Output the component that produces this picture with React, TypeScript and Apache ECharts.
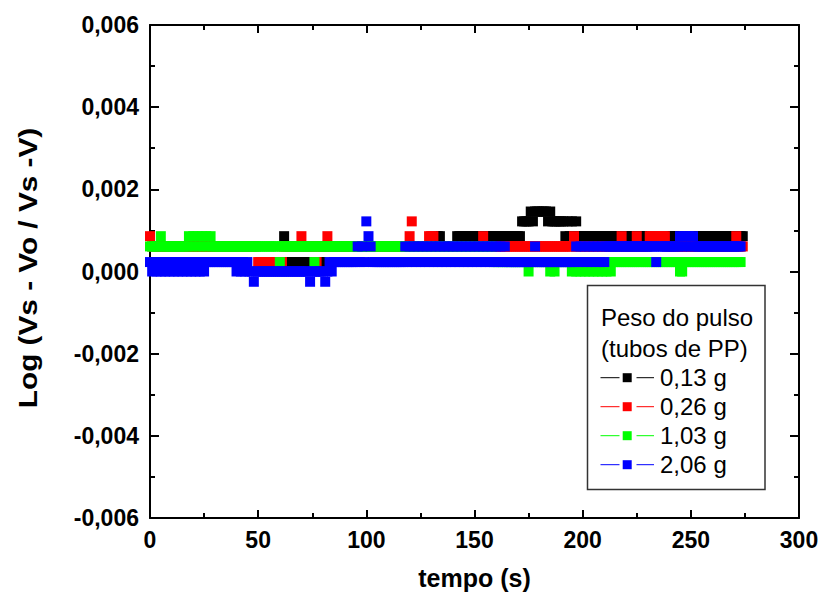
import React, { useEffect, useRef } from "react";
import * as echarts from "echarts";

// Quantized log levels (code -> value)
const levelValues: Record<string, number> = {
  "0": -0.00025,
  "1": 0,
  "2": 0.00023,
  "3": 0.00061,
  "4": 0.00086,
  "5": 0.00122,
  "6": 0.00146,
};

// One code per second, t = 0 .. 275 s ('.' = no reading)
const codes013 = [
  "..........", "..........", "..........", "..........", "..........", "..........",
  "..42222222", "2222222222", "3333333333", "3333333333", "3333333333", "3333333333",
  "3333333333", "3344433333", "3344444444", "4444444444", "4444444444", "4455556566",
  "6666565555", "5545454544", "4444444444", "4444444444", "4444444444", "4444444444",
  "4444444444", "4444444444", "4444444444", "44444.",
].join("");

const codes026 = [
  "4333333333", "3333333333", "3333333333", "3333333333", "3333333333", "2222222222",
  "2233333333", "4333333233", "3343333333", "3333333333", "3333333333", "3333333333",
  "4533333334", "4433333333", "3333333333", "3333433333", "3333333333", "3333333333",
  "3333333333", "3333334333", "3333333333", "3333333343", "3333343333", "3444444443",
  "3333333333", "3333333333", "3333333333", "34333.",
].join("");

const codes103 = [
  "3333343333", "3333333343", "4343434343", "3333333333", "3333333333", "3333333333",
  "2333333333", "3333332333", "3333333333", "3333333333", "3333333333", "3333333333",
  "3333333333", "3333333333", "3333333333", "3333333332", "2222222222", "2222212222",
  "2222212122", "2222212121", "2121212121", "2121222222", "2222222222", "2222222222",
  "2222211222", "2222222222", "2222222222", "2222..",
].join("");

const codes206 = [
  "2121212121", "2121212121", "2121212222", "2222222222", "1212121101", "1111111111",
  "1111111111", "1111011111", "1012122222", "2222223232", "5432222222", "2222222232",
  "3232323232", "3232323232", "3232323232", "3232323232", "3232322222", "2222222232",
  "2222222222", "2222222323", "2323232323", "2333333333", "3333333333", "3333233333",
  "3333343434", "3433333333", "3333333333", "3333..",
].join("");

const seriesNames = ["0,13 g", "0,26 g", "1,03 g", "2,06 g"];
const seriesCodes = [codes013, codes026, codes103, codes206];
const seriesColors = ["#000000", "#ff0000", "#00ff00", "#0000ff"];

const legendTitle = ["Peso do pulso", "(tubos de PP)"];
const xTitle = "tempo (s)";
const yTitle = "Log (Vs - Vo / Vs -V)";

const FONT = "'Liberation Sans', Arial, Helvetica, sans-serif";

function decode(codes: string): [number, number][] {
  const pts: [number, number][] = [];
  for (let i = 0; i < codes.length; i++) {
    const c = codes[i];
    if (c in levelValues) pts.push([i, levelValues[c]]);
  }
  return pts;
}

function fmtY(v: number): string {
  if (Math.abs(v) < 1e-9) return "0,000";
  return v.toFixed(3).replace(".", ",");
}

export default function App() {
  const ref = useRef<HTMLDivElement>(null);

  useEffect(() => {
    if (!ref.current) return;
    const chart = echarts.init(ref.current, null, { renderer: "svg" });

    const axisLine = { onZero: false, lineStyle: { color: "#000", width: 2 } };
    const tickStyle = { color: "#000", width: 2 };
    const labelStyle = {
      color: "#000",
      fontSize: 23,
      fontWeight: "bold" as const,
      fontFamily: FONT,
    };

    const legendX = 587.5;
    const legendY = 285.5;
    const rowY0 = 377.7;
    const rowStep = 29;
    const legendElems: any[] = [
      {
        type: "rect",
        shape: { x: legendX, y: legendY, width: 177.5, height: 204 },
        style: { fill: "#fff", stroke: "#333", lineWidth: 1.5 },
        z: 100,
      },
      ...legendTitle.map((t, k) => ({
        type: "text",
        x: 601,
        y: 317 + k * 31,
        style: {
          text: t,
          fill: "#000",
          font: `24px ${FONT}`,
          verticalAlign: "middle",
        },
        z: 101,
      })),
    ];
    seriesNames.forEach((name, k) => {
      const y = rowY0 + k * rowStep;
      const col = seriesColors[k];
      legendElems.push(
        { type: "line", shape: { x1: 600.5, y1: y, x2: 619.5, y2: y }, style: { stroke: col, lineWidth: 1 }, z: 101 },
        { type: "rect", shape: { x: 622.7, y: y - 4.5, width: 9, height: 9 }, style: { fill: col }, z: 101 },
        { type: "line", shape: { x1: 636.5, y1: y, x2: 654, y2: y }, style: { stroke: col, lineWidth: 1 }, z: 101 },
        {
          type: "text",
          x: 660,
          y,
          style: { text: name, fill: "#000", font: `24px ${FONT}`, verticalAlign: "middle" },
          z: 101,
        }
      );
    });
    // y-axis title (stretched along its length like the original)
    legendElems.push({
      type: "text",
      x: 28,
      y: 268,
      rotation: Math.PI / 2,
      scaleX: 1.19,
      scaleY: 1,
      style: {
        text: yTitle,
        fill: "#000",
        font: `bold 25px ${FONT}`,
        align: "center",
        verticalAlign: "middle",
      },
      z: 50,
    });

    chart.setOption({
      animation: false,
      backgroundColor: "#fff",
      grid: { left: 150, right: 25, top: 25, bottom: 83, containLabel: false },
      xAxis: [
        {
          type: "value",
          position: "bottom",
          min: 0,
          max: 300,
          interval: 50,
          axisLine,
          axisTick: { inside: true, length: 8, lineStyle: tickStyle },
          minorTick: { show: true, splitNumber: 2, length: 5, lineStyle: tickStyle },
          splitLine: { show: false },
          minorSplitLine: { show: false },
          axisLabel: { ...labelStyle, margin: 10 },
          name: xTitle,
          nameLocation: "middle",
          nameGap: 47,
          nameTextStyle: { color: "#000", fontSize: 25, fontWeight: "bold", fontFamily: FONT },
        },
        {
          type: "value",
          position: "top",
          min: 0,
          max: 300,
          interval: 50,
          axisLine,
          axisTick: { inside: true, length: 8, lineStyle: tickStyle },
          minorTick: { show: true, splitNumber: 2, length: 5, lineStyle: tickStyle },
          splitLine: { show: false },
          axisLabel: { show: false },
        },
      ],
      yAxis: [
        {
          type: "value",
          position: "left",
          min: -0.006,
          max: 0.006,
          interval: 0.002,
          axisLine,
          axisTick: { inside: true, length: 9, lineStyle: tickStyle },
          minorTick: { show: true, splitNumber: 2, length: 5, lineStyle: tickStyle },
          splitLine: { show: false },
          minorSplitLine: { show: false },
          axisLabel: { ...labelStyle, margin: 11, formatter: (v: number) => fmtY(v) },
        },
        {
          type: "value",
          position: "right",
          min: -0.006,
          max: 0.006,
          interval: 0.002,
          axisLine,
          axisTick: { inside: true, length: 9, lineStyle: tickStyle },
          minorTick: { show: true, splitNumber: 2, length: 5, lineStyle: tickStyle },
          splitLine: { show: false },
          axisLabel: { show: false },
        },
      ],
      series: seriesNames.map((name, k) => ({
        name,
        type: "scatter",
        xAxisIndex: 0,
        yAxisIndex: 0,
        symbol: "rect",
        symbolSize: [10, 10],
        itemStyle: { color: seriesColors[k], opacity: 1 },
        emphasis: { disabled: true },
        data: decode(seriesCodes[k]),
        z: 2 + k,
      })),
      graphic: legendElems,
    });

    return () => chart.dispose();
  }, []);

  return (
    <div
      ref={ref}
      style={{ position: "fixed", left: 0, top: 0, width: 824, height: 601, background: "#fff" }}
    />
  );
}
